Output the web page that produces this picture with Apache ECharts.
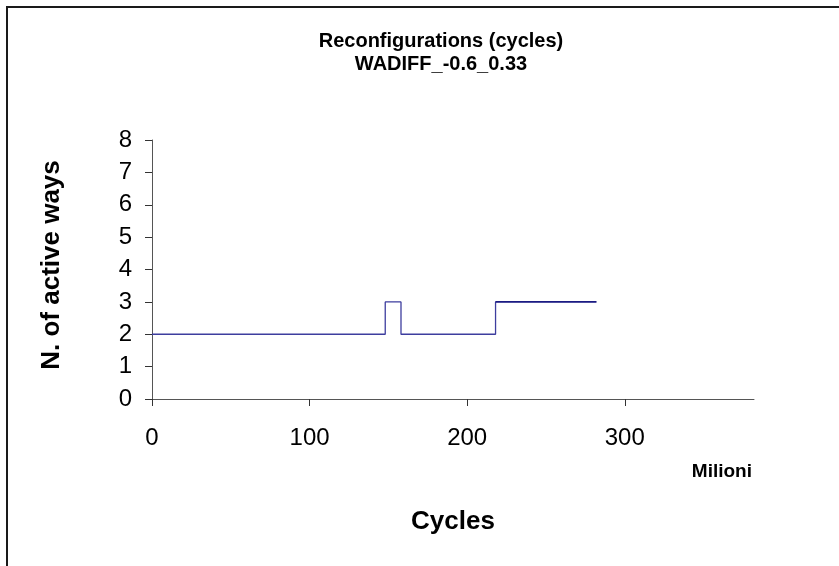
<!DOCTYPE html>
<html>
<head>
<meta charset="utf-8">
<script src="https://cdn.jsdelivr.net/npm/echarts@6/dist/echarts.min.js"></script>
<style>
html,body{margin:0;padding:0;background:#fff;}
#chart{width:839px;height:566px;}
</style>
</head>
<body>
<div id="chart"></div>
<script>
// Change points of the step series (cycles in millions -> active ways)
var cyclesM = [0, 148, 158, 218, 282];
var activeWays = [2, 3, 2, 3, 3];
var xTicks = [0, 100, 200, 300];
var yTicks = [0, 1, 2, 3, 4, 5, 6, 7, 8];
var titleLines = ['Reconfigurations (cycles)', 'WADIFF_-0.6_0.33'];
var yAxisTitle = 'N. of active ways';
var xAxisTitle = 'Cycles';
var xUnitLabel = 'Milioni';

var mainData = cyclesM.map(function (x, i) { return [x, activeWays[i]]; });
var lastData = mainData.slice(mainData.length - 2);

var chart = echarts.init(document.getElementById('chart'), null, {renderer: 'canvas'});
var font = 'Arial, "Liberation Sans", sans-serif';
chart.setOption({
  animation: false,
  backgroundColor: '#fff',
  title: {
    text: titleLines.join('\n'),
    left: 436, top: 25, textAlign: 'center',
    textStyle: {fontFamily: font, fontSize: 20, fontWeight: 'bold', color: '#000', lineHeight: 23}
  },
  graphic: [
    {type: 'rect', shape: {x: 7, y: 7, width: 900, height: 700}, style: {fill: 'none', stroke: '#1a1a1a', lineWidth: 2}, silent: true},
    {type: 'text', x: 752, y: 472, style: {text: xUnitLabel, font: 'bold 19px Arial, "Liberation Sans", sans-serif', fill: '#000', align: 'right', verticalAlign: 'middle'}},
    {type: 'text', x: 52, y: 265, rotation: Math.PI / 2, style: {text: yAxisTitle, font: 'bold 26px Arial, "Liberation Sans", sans-serif', fill: '#000', align: 'center', verticalAlign: 'middle'}}
  ],
  grid: {left: 152, top: 140, right: 85, bottom: 167, containLabel: false},
  xAxis: {
    type: 'value', min: 0, max: 382, interval: 100,
    name: xAxisTitle, nameLocation: 'middle', nameGap: 110,
    nameTextStyle: {fontFamily: font, fontSize: 26, fontWeight: 'bold', color: '#000'},
    axisLine: {show: true, lineStyle: {color: '#555', width: 1}},
    axisTick: {show: true, length: 7, inside: false, customValues: xTicks, lineStyle: {color: '#333'}},
    axisLabel: {customValues: xTicks, fontFamily: font, fontSize: 24, color: '#000', margin: 27},
    splitLine: {show: false}
  },
  yAxis: {
    type: 'value', min: 0, max: 8, interval: 1,
    axisLine: {show: true, lineStyle: {color: '#555', width: 1}},
    axisTick: {show: true, length: 7, inside: false, customValues: yTicks, lineStyle: {color: '#333'}},
    axisLabel: {customValues: yTicks, fontFamily: font, fontSize: 24, color: '#000', margin: 20},
    splitLine: {show: false}
  },
  series: [
    {type: 'line', step: 'end', data: mainData, symbol: 'none', lineStyle: {color: '#3d3d9e', width: 1.3}},
    {type: 'line', step: 'end', data: lastData, symbol: 'none', lineStyle: {color: '#000070', width: 1.3}}
  ]
});
</script>
</body>
</html>
